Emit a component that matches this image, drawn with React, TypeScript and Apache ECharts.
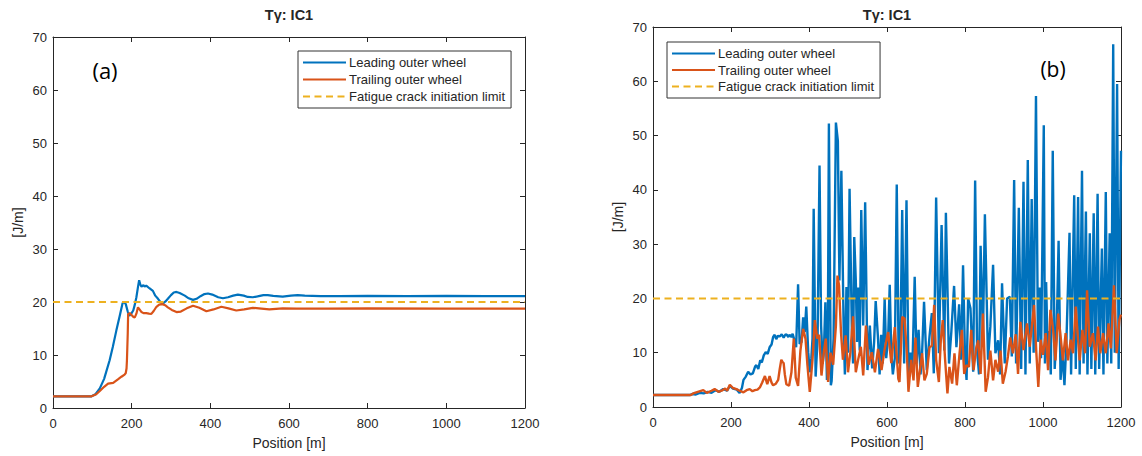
import React, { useEffect, useRef } from "react";
import * as echarts from "echarts";

// ---------- data ----------
const titleText = "Tγ: IC1";
const seriesNames = ["Leading outer wheel", "Trailing outer wheel", "Fatigue crack initiation limit"];
const xTicks = { min: 0, max: 1200, interval: 200 };
const yTicks = { min: 0, max: 70, interval: 10 };

const aLeading: number[][] = [[0,2.2],[98,2.2],[108,2.6],[119,3.7],[130,5.5],[144,9],[152,11.5],[161,14.6],[170,17.5],[177,19.8],[182,19.9],[185,19.6],[190,18.2],[194,17.4],[199,17.8],[204,18.4],[208,19.5],[212,20.9],[216,22.8],[219,24.1],[222,23.3],[225,22.9],[230,23.2],[233,22.9],[237,23.1],[245,22.6],[254,22.1],[260,21.2],[267,20.6],[274,19.9],[280,19.75],[286,20.1],[292,20.6],[300,21.3],[307,21.8],[314,21.9],[322,21.7],[335,21.2],[345,20.7],[356,20.4],[365,20.6],[375,21.1],[385,21.5],[394,21.6],[405,21.4],[420,20.9],[432,20.7],[445,20.9],[458,21.2],[470,21.4],[485,21.2],[495,20.95],[508,20.9],[520,21.05],[535,21.3],[546,21.3],[560,21.15],[584,21.0],[605,21.2],[622,21.3],[640,21.2],[680,21.1],[728,21.1],[800,21.15],[900,21.1],[1000,21.15],[1100,21.1],[1200,21.1]];

const aTrailing: number[][] = [[0,2.2],[98,2.2],[110,2.6],[119,3.2],[130,4],[140,4.6],[153,4.75],[165,5.4],[174,5.9],[182,6.3],[185,6.6],[187,7.5],[188,9],[190,14],[191,17.75],[195,17.9],[199,17.6],[204,17.2],[208,17.1],[212,17.8],[216,19],[220,18.6],[225,18.1],[230,17.9],[237,17.9],[244,17.8],[250,17.75],[256,18.3],[263,19.1],[270,19.5],[278,19.6],[285,19.4],[292,19],[302,18.5],[314,18.1],[325,18.2],[340,18.8],[356,19.3],[372,18.9],[390,18.25],[408,18.6],[428,19.1],[446,18.8],[466,18.4],[486,18.6],[508,18.9],[530,18.75],[550,18.6],[584,18.8],[620,18.75],[700,18.75],[800,18.8],[1000,18.75],[1200,18.75]];

const bLeading: number[][] = [[0,2.2],[95,2.2],[100,2.4],[110,2.3],[120,2.6],[130,2.5],[140,2.8],[150,2.6],[160,3.1],[170,2.8],[180,3.3],[190,3],[197,3.9],[205,3.4],[215,3.2],[222,2.6],[228,3.5],[232,5],[238,5.6],[244,6.5],[250,6],[256,6.2],[262,7.5],[265,7.7],[270,7],[275,8.6],[279,8.2],[284,9.5],[289,10.1],[294,9.8],[299,11],[304,11.5],[308,12.9],[312,13.3],[316,12.5],[320,13.1],[325,13],[330,13.4],[335,12.8],[340,13.4],[343,13.3],[347,12.9],[350,13.3],[355,12.9],[358,13.5],[363,12.2],[367,11],[372,22.6],[376,11.6],[381,12],[385,16.5],[389,13.8],[393,18.5],[398,10.1],[402,6.4],[406,9],[409,12.6],[412,36.5],[417,5.6],[422,12.6],[427,44.5],[431,15],[435,8],[438,10],[442,19.3],[446,5],[448,7.8],[451,52.2],[456,4],[458,4.8],[463,12.6],[469,52.4],[474,49],[478,23.3],[483,43.5],[489,13.8],[492,6],[496,22.1],[500,10],[504,40.2],[510,13.8],[513,8],[516,31.3],[520,23.3],[523,12],[526,22],[530,10.4],[534,36.3],[539,15],[544,37.7],[550,6.8],[556,15],[562,7.1],[567,12],[571,19.5],[577,12.6],[581,6],[585,13.3],[589,8],[594,20],[598,9],[603,12.9],[607,22.5],[611,10],[615,6],[620,9],[625,41],[630,8],[634,10],[639,36.3],[644,8],[650,38.1],[655,6],[660,10],[665,7],[671,24],[676,8],[681,14.2],[686,6],[690,10],[695,19.4],[702,6.8],[709,13],[715,17.3],[720,6.2],[726,38.6],[733,9.9],[740,33.5],[747,10.4],[751,35.8],[759,8],[765,13.9],[772,22.3],[778,11],[785,18.9],[790,8.7],[795,26.1],[800,9.3],[804,5],[808,20],[814,18.2],[821,6.5],[826,41.7],[831,10.4],[836,6],[840,29.7],[846,12.8],[851,35.5],[859,8.7],[865,14.8],[872,26.2],[878,9.9],[885,12.3],[890,6],[895,22.8],[902,8],[908,20],[915,20.3],[920,9.3],[926,41.8],[931,8],[938,36.7],[944,7],[950,41.5],[955,6],[961,45.5],[966,8],[971,38.3],[976,10],[982,57.3],[987,12],[991,22],[995,9],[1002,51.9],[1005,8],[1008,23],[1012,10],[1016,14],[1020,6],[1025,47.2],[1030,7],[1035,14],[1040,30.6],[1045,5],[1050,10],[1055,4],[1060,12],[1068,32.1],[1072,6],[1080,39],[1084,7],[1090,38.7],[1094,6],[1100,43.5],[1104,8],[1110,36],[1114,6],[1120,32],[1124,7],[1130,35.7],[1134,6],[1140,39.3],[1144,7],[1151,29.2],[1155,6],[1161,39.6],[1165,8],[1171,32],[1175,8],[1180,66.8],[1184,10],[1190,59.5],[1194,7],[1200,47.2]];

const bTrailing: number[][] = [[0,2.2],[97,2.2],[103,2.5],[115,2.8],[129,3.1],[138,2.6],[150,3],[158,3.3],[168,2.8],[176,3],[185,3.4],[190,3],[197,4.1],[205,3.5],[214,3.3],[222,3],[232,2.7],[240,3.1],[248,3.3],[255,2.9],[261,3.1],[268,3.2],[274,3.6],[280,4.5],[287,5.7],[293,4.2],[299,5.7],[304,4.5],[308,4],[315,4.3],[321,5],[325,7],[329,8.7],[332,8.3],[335,8.1],[338,6],[342,4.2],[349,3.9],[355,6.4],[361,12.6],[366,5.4],[372,3.9],[378,10.4],[385,14.4],[391,12.6],[396,7.7],[402,2.8],[409,8.7],[415,16],[421,12.6],[426,13.3],[432,5.8],[438,10.1],[443,12.6],[449,4.6],[455,10],[462,7.8],[469,15],[473,24.2],[477,22.4],[482,13.8],[487,8.7],[494,13.2],[500,6.4],[506,10.1],[513,16.7],[520,6.4],[526,8.7],[533,11.1],[539,5.8],[546,15],[553,7.8],[561,10.1],[569,6.4],[577,10.7],[586,6.8],[594,10.7],[603,13.8],[611,8.1],[620,14.7],[629,5.2],[632,4.6],[639,16.6],[645,16.3],[651,9.9],[655,2.8],[662,8.7],[668,4.9],[673,12.8],[679,3.7],[685,7.1],[690,9.9],[696,4.9],[702,6.1],[709,11],[715,11.3],[721,18.8],[726,8.7],[733,4.6],[738,12.3],[743,16],[749,8.7],[755,2.5],[760,7.4],[767,4.3],[773,9.9],[779,4],[786,9.9],[792,14.2],[798,6.1],[803,7.7],[810,7.4],[816,14.2],[822,6.8],[829,11],[834,12.3],[840,6.1],[846,17.2],[853,2.8],[859,5.5],[865,10.4],[872,4.9],[878,8.7],[885,6.5],[891,10.4],[897,4.3],[904,6.5],[910,9.3],[916,12.8],[923,9.9],[930,13.4],[936,6.1],[942,15.7],[950,10.5],[959,15.4],[966,11.1],[977,18.8],[983,9.9],[988,3.7],[994,12.4],[1000,9.6],[1007,13.6],[1013,6.8],[1019,17.9],[1026,14.2],[1032,8.6],[1039,17.2],[1046,12.4],[1051,8.6],[1058,13.6],[1064,8.6],[1071,12.4],[1077,9.9],[1084,18.5],[1088,14.2],[1094,8.6],[1101,14.2],[1108,9.9],[1113,21.5],[1120,11.1],[1128,13.6],[1135,8.6],[1141,14.8],[1147,9.9],[1154,13.6],[1161,9.9],[1168,15.4],[1174,10.8],[1182,22.4],[1189,9.9],[1196,16.1],[1200,17]];

const limitLine: number[][] = [[0,20],[1200,20]];

const panelLabels = ["(a)", "(b)"];
const xAxisName = "Position [m]";
const yAxisName = "[J/m]";

// ---------- styles ----------
const BLUE = "#0072BD";
const ORANGE = "#D95319";
const YELLOW = "#EDB120";
const AXIS = "#262626";
const FONT = "'Liberation Sans', Arial, Helvetica, sans-serif";

export default function App() {
  const ref = useRef<HTMLDivElement>(null);
  useEffect(() => {
    if (!ref.current) return;
    const chart = echarts.init(ref.current, undefined, { renderer: "svg" });
    const grids = [
      { left: 53, top: 37, width: 472, height: 371 },
      { left: 653, top: 27, width: 468, height: 380 },
    ];
    const xAxes: any[] = [];
    const yAxes: any[] = [];
    grids.forEach((_, gi) => {
      const common = {
        gridIndex: gi,
        type: "value",
        axisLine: { show: true, onZero: false, lineStyle: { color: AXIS, width: 1 } },
        axisTick: { show: true, inside: true, length: 5, lineStyle: { color: AXIS } },
        splitLine: { show: false },
      };
      xAxes.push({
        ...common,
        ...xTicks,
        position: "bottom",
        axisLabel: { color: AXIS, fontSize: 13, fontFamily: FONT, margin: 9, formatter: (v: number) => String(v) },
        name: xAxisName,
        nameLocation: "middle",
        nameGap: 28,
        nameTextStyle: { color: AXIS, fontSize: 14, fontFamily: FONT },
      });
      xAxes.push({ ...common, ...xTicks, position: "top", axisLabel: { show: false } });
      yAxes.push({
        ...common,
        ...yTicks,
        position: "left",
        axisLabel: { color: AXIS, fontSize: 13, fontFamily: FONT, margin: 6 },
        name: yAxisName,
        nameLocation: "middle",
        nameGap: 28,
        nameRotate: 90,
        nameTextStyle: { color: AXIS, fontSize: 14, fontFamily: FONT },
      });
      yAxes.push({ ...common, ...yTicks, position: "right", axisLabel: { show: false } });
    });

    const mk = (gi: number, name: string, data: number[][], color: string, dashed = false) => ({
      type: "line",
      name,
      xAxisIndex: gi * 2,
      yAxisIndex: gi * 2,
      data,
      symbol: "none",
      showSymbol: false,
      silent: true,
      lineStyle: { color, width: dashed ? 2 : gi === 0 ? 2.2 : 2.4, type: dashed ? [7, 4.5] : "solid" },
      itemStyle: { color },
      z: dashed ? 4 : 3,
    });

    const series = [
      mk(0, seriesNames[0], aLeading, BLUE),
      mk(0, seriesNames[1], aTrailing, ORANGE),
      mk(0, seriesNames[2], limitLine, YELLOW, true),
      mk(1, seriesNames[0], bLeading, BLUE),
      mk(1, seriesNames[1], bTrailing, ORANGE),
      mk(1, seriesNames[2], limitLine, YELLOW, true),
    ];

    const legendBase = {
      orient: "vertical",
      data: seriesNames,
      itemWidth: 43,
      itemHeight: 14,
      itemGap: 4,
      padding: [5, 6, 5, 4],
      borderColor: "#333333",
      borderWidth: 1,
      backgroundColor: "#ffffff",
      selectedMode: false,
      itemStyle: { opacity: 0, borderWidth: 0 },
      lineStyle: { width: 2 },
      textStyle: { color: AXIS, fontSize: 13, fontFamily: FONT, padding: [0, 0, 0, -2] },
    };

    chart.setOption({
      animation: false,
      backgroundColor: "#ffffff",
      grid: grids,
      xAxis: xAxes,
      yAxis: yAxes,
      legend: [
        { ...legendBase, left: 298, top: 51 },
        { ...legendBase, left: 667, top: 42, itemGap: 3.5 },
      ],
      series,
      graphic: [
        { type: "text", x: 289, y: 15, style: { text: titleText, font: `bold 14.5px ${FONT}`, fill: AXIS, textAlign: "center", textVerticalAlign: "middle" } },
        { type: "text", x: 887, y: 15, style: { text: titleText, font: `bold 14.5px ${FONT}`, fill: AXIS, textAlign: "center", textVerticalAlign: "middle" } },
        { type: "text", x: 105, y: 70, style: { text: panelLabels[0], font: `22px 'Open Sans', ${FONT}`, fill: "#000", textAlign: "center", textVerticalAlign: "middle" } },
        { type: "text", x: 1053, y: 69, style: { text: panelLabels[1], font: `21px 'Open Sans', ${FONT}`, fill: "#000", textAlign: "center", textVerticalAlign: "middle" } },
      ],
    });
    return () => chart.dispose();
  }, []);
  return <div ref={ref} style={{ position: "absolute", left: 0, top: 0, width: 1142, height: 456 }} />;
}
